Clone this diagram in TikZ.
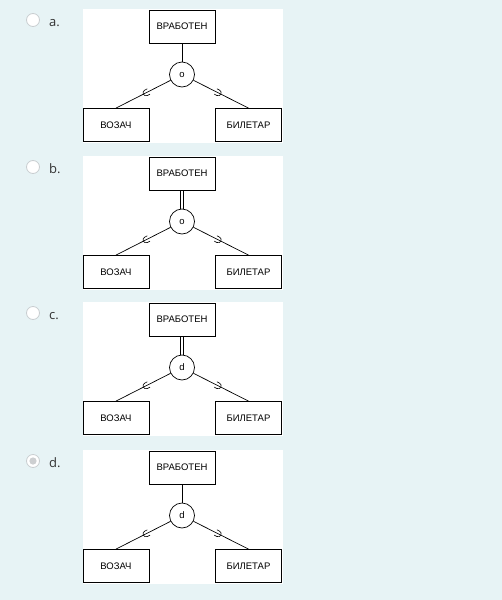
\documentclass[tikz,border=0pt]{standalone}
\usepackage{fontspec}
\setmainfont{Liberation Sans}
\newfontfamily\labelfont{Open Sans}
\usetikzlibrary{decorations.markings}
\definecolor{pagebg}{HTML}{E7F3F5}
\definecolor{radiogray}{HTML}{C9CED1}
\definecolor{labelgray}{HTML}{333333}
\tikzset{
  entity/.style={draw, line width=0.8pt, minimum width=66pt, minimum height=33pt,
    inner sep=0pt, font=\fontsize{9.5}{11}\selectfont},
  spec/.style={draw, circle, line width=0.7pt, minimum size=25pt, inner sep=0pt,
    font=\fontsize{9.5}{10}\selectfont},
  plainlink/.style={draw, line width=0.8pt},
  totallink/.style={draw=none, postaction={draw, line width=0.7pt, transform canvas={xshift=-1.3pt}},
    postaction={draw, line width=0.7pt, transform canvas={xshift=1.3pt}}},
  subsetmark/.style={line width=0.7pt, postaction={decorate},
    decoration={markings, mark=at position .45 with
      {\draw[line width=0.6pt] (-3pt,3pt) -- (0,3pt) arc (90:-90:3pt) -- (-3pt,-3pt);}}},
  radiooff/.style={draw=radiogray, fill=white, line width=0.8pt},
  radioon/.style={draw=radiogray, fill=white, line width=0.8pt},
}
\begin{document}
\begin{tikzpicture}[x=1pt, y=-1pt]
      \fill[pagebg] (0,0) rectangle (502,600);
      \useasboundingbox (0,0) rectangle (502,600);
      \foreach \s/\yo/\sym/\link/\radio in {a/9/o/plainlink/radiooff, b/156/o/totallink/radiooff,
          c/302/d/totallink/radiooff, d/450/d/plainlink/radioon}
      {
        \fill[white] (83,\yo) rectangle (283,\yo+134);
        \node[circle, minimum size=13pt, inner sep=0pt, \radio] (radio-\s) at (33,\yo+11) {};
        \node[anchor=base west, inner sep=0pt, text=labelgray, font=\labelfont\fontsize{13}{15}\selectfont]
          (letter-\s) at (49,\yo+17) {\s.};
        \node[entity] (top-\s) at (182,\yo+17.5) {ВРАБОТЕН};
        \node[spec] (circ-\s) at (182,\yo+65.5) {\sym};
        \node[entity] (left-\s) at (116,\yo+116) {ВОЗАЧ};
        \node[entity] (right-\s) at (248.5,\yo+116) {БИЛЕТАР};
        \path[\link] (top-\s) -- (circ-\s);
        \draw[subsetmark] (circ-\s) -- (left-\s.north);
        \draw[subsetmark] (circ-\s) -- (right-\s.north);
      }
      % selected answer
      \fill[radiogray!85!black!60] (radio-d) circle (3.6pt);
    \end{tikzpicture}
\end{document}
